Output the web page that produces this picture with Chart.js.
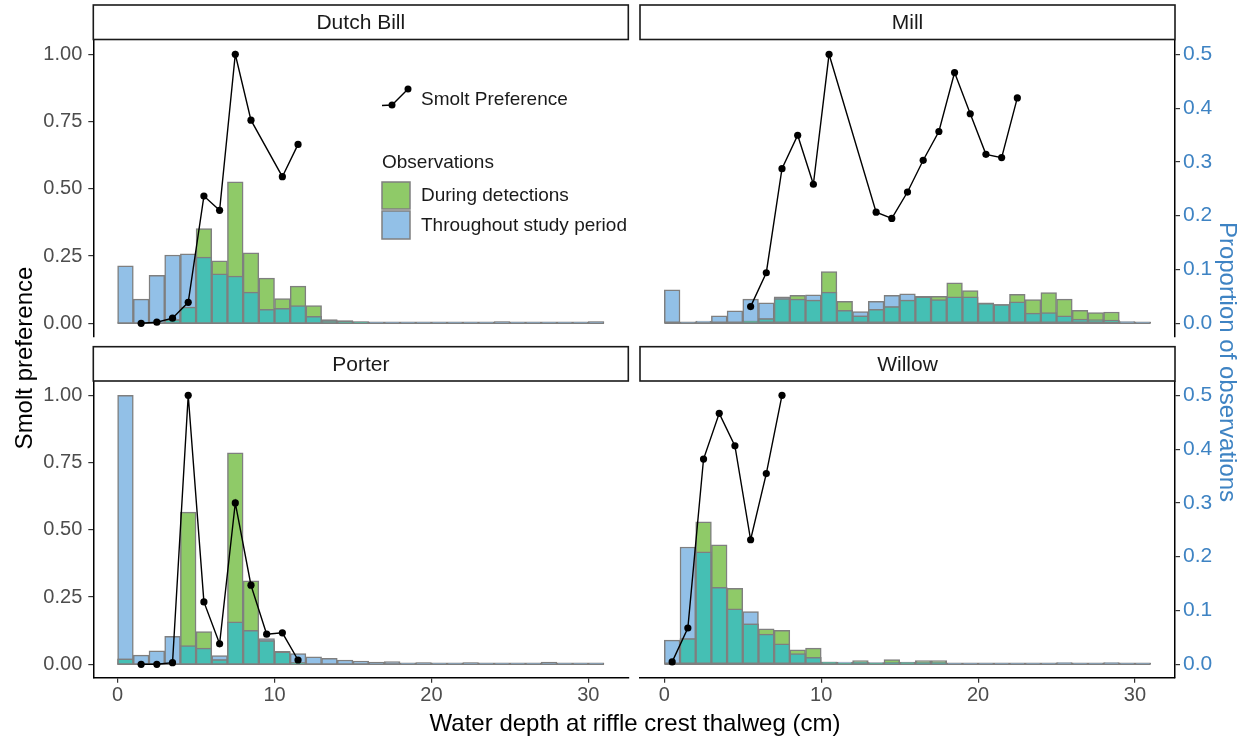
<!DOCTYPE html>
<html>
<head>
<meta charset="utf-8">
<title>Smolt preference by riffle depth</title>
<script src="https://cdn.jsdelivr.net/npm/chart.js@4.4.0/dist/chart.umd.min.js"></script>
<style>
  html, body { margin: 0; padding: 0; background: #fff; }
  #wrap { position: relative; width: 1247px; height: 738px; }
  #wrap canvas { position: absolute; left: 0; top: 0; }
</style>
</head>
<body>
<div id="wrap">
  <canvas id="dutchBill" width="1247" height="738"></canvas>
  <canvas id="mill" width="1247" height="738"></canvas>
  <canvas id="porter" width="1247" height="738"></canvas>
  <canvas id="willow" width="1247" height="738"></canvas>
</div>
<script>
// 1 cm depth bins (centres)
const binMid = [0.5, 1.5, 2.5, 3.5, 4.5, 5.5, 6.5, 7.5, 8.5, 9.5, 10.5, 11.5, 12.5, 13.5, 14.5, 15.5,
  16.5, 17.5, 18.5, 19.5, 20.5, 21.5, 22.5, 23.5, 24.5, 25.5, 26.5, 27.5, 28.5, 29.5, 30.5];
const xTicks = [0, 10, 20, 30];
const prefTicks = [0, 0.25, 0.5, 0.75, 1];
const propTicks = [0, 0.1, 0.2, 0.3, 0.4, 0.5];

// proportion of observations per bin
const dutchBillStudy = [0.107, 0.045, 0.089, 0.127, 0.129, 0.123, 0.092, 0.088, 0.058, 0.026, 0.028, 0.033, 0.013, 0.007, 0.005, 0.003,
  0.002, 0.002, 0.002, 0.002, 0.002, 0.002, 0.002, 0.002, 0.003, 0.002, 0.002, 0.002, 0.002, 0.002, 0.003];
const dutchBillDetect = [0, 0, 0, 0.007, 0.030, 0.176, 0.116, 0.263, 0.131, 0.084, 0.046, 0.069, 0.033, 0.005, 0.004, 0.002,
  0, 0, 0, 0, 0, 0, 0, 0, 0, 0, 0, 0, 0, 0, 0];
const millStudy = [0.062, 0.001, 0.004, 0.014, 0.023, 0.045, 0.038, 0.049, 0.045, 0.053, 0.058, 0.024, 0.022, 0.041, 0.052, 0.055,
  0.050, 0.044, 0.049, 0.049, 0.038, 0.035, 0.040, 0.019, 0.020, 0.014, 0.008, 0.007, 0.006, 0.003, 0.002];
const millDetect = [0, 0, 0, 0, 0, 0.004, 0.009, 0.046, 0.052, 0.043, 0.096, 0.041, 0.014, 0.026, 0.031, 0.043,
  0.049, 0.050, 0.075, 0.061, 0.037, 0.035, 0.054, 0.044, 0.057, 0.045, 0.024, 0.020, 0.021, 0, 0];
const porterStudy = [0.5, 0.017, 0.025, 0.052, 0.035, 0.030, 0.016, 0.079, 0.063, 0.048, 0.024, 0.020, 0.014, 0.011, 0.008, 0.006,
  0.004, 0.005, 0.002, 0.003, 0.002, 0.002, 0.003, 0.002, 0.002, 0.002, 0.002, 0.004, 0.002, 0.002, 0.002];
const porterDetect = [0.010, 0, 0, 0, 0.283, 0.061, 0.009, 0.393, 0.155, 0.044, 0.023, 0.003, 0, 0, 0, 0,
  0, 0, 0, 0, 0, 0, 0, 0, 0, 0, 0, 0, 0, 0, 0];
const willowStudy = [0.045, 0.218, 0.209, 0.143, 0.103, 0.098, 0.056, 0.038, 0.020, 0.013, 0.004, 0.004, 0.004, 0.003, 0.003, 0.004,
  0.003, 0.003, 0.002, 0.002, 0.002, 0.002, 0.002, 0.002, 0.002, 0.003, 0.002, 0.002, 0.003, 0.002, 0.002];
const willowDetect = [0, 0.048, 0.265, 0.222, 0.141, 0.075, 0.066, 0.063, 0.027, 0.030, 0.004, 0.002, 0.007, 0.002, 0.009, 0.003,
  0.007, 0.007, 0, 0, 0, 0, 0, 0, 0, 0, 0, 0, 0, 0, 0];

// smolt preference index by depth
const dutchBillPrefDepth = [1.5, 2.5, 3.5, 4.5, 5.5, 6.5, 7.5, 8.5, 10.5, 11.5];
const dutchBillPref = [0, 0.004, 0.019, 0.078, 0.473, 0.420, 1.0, 0.755, 0.545, 0.665];
const millPrefDepth = [5.5, 6.5, 7.5, 8.5, 9.5, 10.5, 13.5, 14.5, 15.5, 16.5, 17.5, 18.5, 19.5, 20.5, 21.5, 22.5];
const millPref = [0.062, 0.188, 0.575, 0.699, 0.517, 1.0, 0.413, 0.390, 0.488, 0.606, 0.713, 0.932, 0.779, 0.628, 0.616, 0.838];
const porterPrefDepth = [1.5, 2.5, 3.5, 4.5, 5.5, 6.5, 7.5, 8.5, 9.5, 10.5, 11.5];
const porterPref = [0, 0, 0.006, 1.0, 0.232, 0.076, 0.600, 0.294, 0.112, 0.117, 0.016];
const willowPrefDepth = [0.5, 1.5, 2.5, 3.5, 4.5, 5.5, 6.5, 7.5];
const willowPref = [0.009, 0.135, 0.763, 0.933, 0.812, 0.463, 0.709, 1.0];

const FONT = '"Liberation Sans", Arial, Helvetica, sans-serif';
const BLUE = '#92C0E7';
const GREEN = '#8FCA68';
const TEAL = '#45BFB4';
const EDGE = '#7F7F7F';
const AXIS_BLUE = '#3E83C3';
const W = 1247, H = 738;
const Y_AXIS_W = 80, X_AXIS_H = 30;

const stripPlugin = {
  id: 'strip',
  afterDraw(chart, args, opts) {
    const { ctx, chartArea } = chart;
    const l = chartArea.left, r = chartArea.right;
    ctx.save();
    ctx.fillStyle = '#fff';
    ctx.fillRect(l, opts.top, r - l, opts.bottom - opts.top);
    ctx.strokeStyle = '#1a1a1a';
    ctx.lineWidth = 1.6;
    ctx.strokeRect(l, opts.top, r - l, opts.bottom - opts.top);
    ctx.fillStyle = '#1a1a1a';
    ctx.font = '21px ' + FONT;
    ctx.textAlign = 'center';
    ctx.textBaseline = 'middle';
    ctx.fillText(opts.label, (l + r) / 2, (opts.top + opts.bottom) / 2 + 1);
    ctx.restore();
  }
};

// outline of the empty bins along the zero line, spanning all bins
const baselinePlugin = {
  id: 'baseline',
  beforeDatasetsDraw(chart) {
    const { ctx, scales } = chart;
    const half = (binMid[1] - binMid[0]) / 2;
    const x0 = scales.x.getPixelForValue(binMid[0] - half);
    const x1 = scales.x.getPixelForValue(binMid[binMid.length - 1] + half);
    const y0 = scales.y2.getPixelForValue(0);
    ctx.save();
    ctx.strokeStyle = EDGE;
    ctx.lineWidth = 2.2;
    ctx.beginPath();
    ctx.moveTo(x0, y0 - 0.4);
    ctx.lineTo(x1, y0 - 0.4);
    ctx.stroke();
    ctx.restore();
  }
};

// legend inside the Dutch Bill panel
const keyPlugin = {
  id: 'key',
  afterDraw(chart) {
    const ctx = chart.ctx;
    ctx.save();
    ctx.strokeStyle = '#000';
    ctx.lineWidth = 1.4;
    ctx.beginPath();
    ctx.moveTo(382, 105.5);
    ctx.lineTo(392, 105);
    ctx.lineTo(408, 89);
    ctx.stroke();
    ctx.fillStyle = '#000';
    [[392, 105], [408, 89]].forEach(([px, py]) => {
      ctx.beginPath();
      ctx.arc(px, py, 3.5, 0, Math.PI * 2);
      ctx.fill();
    });
    ctx.font = '19px ' + FONT;
    ctx.textBaseline = 'middle';
    ctx.fillStyle = '#1a1a1a';
    ctx.fillText('Smolt Preference', 421, 100);
    ctx.fillText('Observations', 382, 163);
    ctx.lineWidth = 1.5;
    ctx.strokeStyle = EDGE;
    ctx.fillStyle = GREEN;
    ctx.fillRect(382, 182, 28, 27);
    ctx.strokeRect(382, 182, 28, 27);
    ctx.fillStyle = BLUE;
    ctx.fillRect(382, 211, 28, 28);
    ctx.strokeRect(382, 211, 28, 28);
    ctx.fillStyle = '#1a1a1a';
    ctx.fillText('During detections', 421, 196);
    ctx.fillText('Throughout study period', 421, 226);
    ctx.restore();
  }
};

// shared axis titles
const titlePlugin = {
  id: 'titles',
  afterDraw(chart) {
    const ctx = chart.ctx;
    ctx.save();
    ctx.font = '24px ' + FONT;
    ctx.textAlign = 'center';
    ctx.textBaseline = 'alphabetic';
    ctx.fillStyle = '#000';
    ctx.fillText('Water depth at riffle crest thalweg (cm)', 635, 731);
    ctx.save();
    ctx.translate(32, 358);
    ctx.rotate(-Math.PI / 2);
    ctx.fillText('Smolt preference', 0, 0);
    ctx.restore();
    ctx.save();
    ctx.translate(1220, 362);
    ctx.rotate(Math.PI / 2);
    ctx.fillStyle = AXIS_BLUE;
    ctx.fillText('Proportion of observations', 0, 0);
    ctx.restore();
    ctx.restore();
  }
};

function barSet(vals, color, order) {
  return {
    type: 'bar',
    yAxisID: 'y2',
    order: order,
    grouped: false,
    data: binMid.map((x, i) => ({ x: x, y: vals[i] })),
    backgroundColor: color,
    borderColor: EDGE,
    borderWidth: 1.5,
    borderSkipped: false,
    barPercentage: 1,
    categoryPercentage: 1
  };
}

function makePanel(id, label, study, detect, prefDepth, pref, box, extra) {
  const overlap = study.map((v, i) => Math.min(v, detect[i]));
  const axisGrid = { display: true, drawOnChartArea: false, drawTicks: true, tickLength: 5, color: '#333', lineWidth: 1.2 };
  const axisBorder = { display: true, color: '#000', width: 1.5 };
  const padding = {
    top: box.top,
    left: box.showLeft ? box.left - Y_AXIS_W : box.left,
    right: box.showRight ? W - box.right - Y_AXIS_W : W - box.right,
    bottom: box.showX ? H - box.bottom - X_AXIS_H : H - box.bottom
  };
  // hidden axes keep zero size
  const fixWidth = s => { s.width = s.options.display ? Y_AXIS_W : 0; };
  const fixHeight = s => { s.height = s.options.display ? X_AXIS_H : 0; };

  return new Chart(document.getElementById(id), {
    type: 'bar',
    data: {
      datasets: [
        {
          type: 'line',
          order: 0,
          yAxisID: 'y',
          data: prefDepth.map((x, i) => ({ x: x, y: pref[i] })),
          borderColor: '#000',
          borderWidth: 1.4,
          pointRadius: 3.6,
          pointBackgroundColor: '#000',
          pointBorderWidth: 0,
          tension: 0,
          clip: false
        },
        barSet(overlap, TEAL, 1),
        barSet(detect, GREEN, 2),
        barSet(study, BLUE, 3)
      ]
    },
    options: {
      responsive: false,
      animation: false,
      events: [],
      layout: { padding: padding },
      plugins: {
        legend: { display: false },
        tooltip: { enabled: false },
        strip: { label: label, top: box.stripTop, bottom: box.stripBottom }
      },
      scales: {
        x: {
          type: 'linear',
          min: -1.55,
          max: 32.55,
          offset: false,
          display: box.showX,
          afterBuildTicks: s => { s.ticks = xTicks.map(v => ({ value: v })); },
          afterFit: fixHeight,
          grid: Object.assign({ offset: false }, axisGrid),
          border: axisBorder,
          ticks: { color: '#4D4D4D', font: { family: FONT, size: 20 }, padding: 1, maxRotation: 0, autoSkip: false }
        },
        y: {
          type: 'linear',
          position: 'left',
          min: -0.05,
          max: 1.05,
          display: box.showLeft,
          afterBuildTicks: s => { s.ticks = prefTicks.map(v => ({ value: v })); },
          afterFit: fixWidth,
          grid: axisGrid,
          border: axisBorder,
          ticks: { color: '#4D4D4D', font: { family: FONT, size: 20 }, padding: 6, autoSkip: false, callback: v => v.toFixed(2) }
        },
        y2: {
          type: 'linear',
          position: 'right',
          min: -0.025,
          max: 0.525,
          display: box.showRight,
          afterBuildTicks: s => { s.ticks = propTicks.map(v => ({ value: v })); },
          afterFit: fixWidth,
          grid: axisGrid,
          border: axisBorder,
          ticks: { color: AXIS_BLUE, font: { family: FONT, size: 21 }, padding: 3, autoSkip: false, callback: v => v.toFixed(1) }
        }
      }
    },
    plugins: [baselinePlugin, stripPlugin].concat(extra || [])
  });
}

const topRow = { top: 40.85, bottom: 336.75, stripTop: 5, stripBottom: 39.5, showX: false };
const bottomRow = { top: 381.85, bottom: 677.75, stripTop: 346.7, stripBottom: 381, showX: true };
const leftCol = { left: 93.3, right: 628.3, showLeft: true, showRight: false };
const rightCol = { left: 640, right: 1175, showLeft: false, showRight: true };

makePanel('dutchBill', 'Dutch Bill', dutchBillStudy, dutchBillDetect, dutchBillPrefDepth, dutchBillPref,
  Object.assign({}, topRow, leftCol), [keyPlugin]);
makePanel('mill', 'Mill', millStudy, millDetect, millPrefDepth, millPref,
  Object.assign({}, topRow, rightCol));
makePanel('porter', 'Porter', porterStudy, porterDetect, porterPrefDepth, porterPref,
  Object.assign({}, bottomRow, leftCol));
makePanel('willow', 'Willow', willowStudy, willowDetect, willowPrefDepth, willowPref,
  Object.assign({}, bottomRow, rightCol), [titlePlugin]);
</script>
</body>
</html>
